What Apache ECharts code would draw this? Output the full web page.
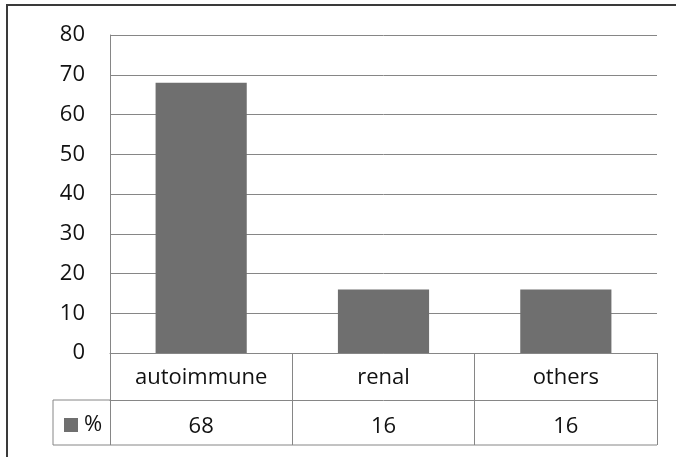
<!DOCTYPE html>
<html>
<head>
<meta charset="utf-8">
<script src="https://cdn.jsdelivr.net/npm/echarts@6/dist/echarts.min.js"></script>
<style>
  html, body { margin: 0; padding: 0; background: #fff; }
  #chart { width: 676px; height: 457px; }
</style>
</head>
<body>
<div id="chart"></div>
<script>
'use strict';

// Data
const categories = ['autoimmune', 'renal', 'others'];
const percentValues = [68, 16, 16];
const seriesName = '%';
const yTicks = { min: 0, max: 80, interval: 10 };

// Layout
const GRID = { left: 110, right: 19, top: 35, bottom: 104 };
const W = 676;
const H = 457;
const ROW_H = 47;
const TABLE_LEFT = 53;
const LINE_COLOR = '#868686';
const BAR_COLOR = '#6f6f6f';
const FONT = { fontFamily: 'Open Sans', fontSize: 22, color: '#111' };

const chart = echarts.init(document.getElementById('chart'));

const axisBottom = H - GRID.bottom;
const gridRight = W - GRID.right;
const row2Top = axisBottom + ROW_H;
const row2Bottom = row2Top + ROW_H - 2;

const tableLine = (x1, y1, x2, y2) => ({
  type: 'line',
  shape: { x1, y1, x2, y2 },
  style: { stroke: LINE_COLOR, lineWidth: 1 },
  silent: true,
});

chart.setOption({
  animation: false,
  backgroundColor: '#fff',
  grid: GRID,
  legend: {
    left: 62,
    top: row2Top + 12,
    padding: 2,
    icon: 'rect',
    itemWidth: 14,
    itemHeight: 14,
    itemGap: 6,
    textStyle: { ...FONT, padding: [0, 0, 0, 1] },
    data: [seriesName],
  },
  xAxis: [
    {
      type: 'category',
      data: categories,
      axisLine: { lineStyle: { color: LINE_COLOR } },
      axisTick: { show: true, length: ROW_H, lineStyle: { color: LINE_COLOR } },
      axisLabel: { ...FONT, margin: 13, lineHeight: 24 },
    },
    {
      type: 'category',
      position: 'bottom',
      offset: ROW_H,
      data: percentValues.map(String),
      axisLine: { lineStyle: { color: LINE_COLOR } },
      axisTick: { show: true, length: ROW_H - 2, lineStyle: { color: LINE_COLOR } },
      axisLabel: { ...FONT, margin: 15, lineHeight: 24 },
    },
  ],
  yAxis: {
    type: 'value',
    min: yTicks.min,
    max: yTicks.max,
    interval: yTicks.interval,
    axisLine: { show: true, lineStyle: { color: LINE_COLOR } },
    axisTick: { show: false },
    splitLine: { lineStyle: { color: LINE_COLOR } },
    axisLabel: { ...FONT, margin: 25 },
  },
  series: [
    {
      name: seriesName,
      type: 'bar',
      data: percentValues,
      barCategoryGap: '50%',
      itemStyle: { color: BAR_COLOR },
    },
  ],
  graphic: [
    // legend cell of the data table
    tableLine(TABLE_LEFT, row2Top, GRID.left, row2Top),
    tableLine(TABLE_LEFT, row2Bottom, gridRight, row2Bottom),
    tableLine(TABLE_LEFT, row2Top, TABLE_LEFT, row2Bottom),
    // outer frame
    {
      type: 'rect',
      shape: { x: 7, y: 5, width: W + 20, height: H + 20 },
      style: { fill: null, stroke: '#3a3a3a', lineWidth: 2 },
      silent: true,
    },
  ],
});
</script>
</body>
</html>
